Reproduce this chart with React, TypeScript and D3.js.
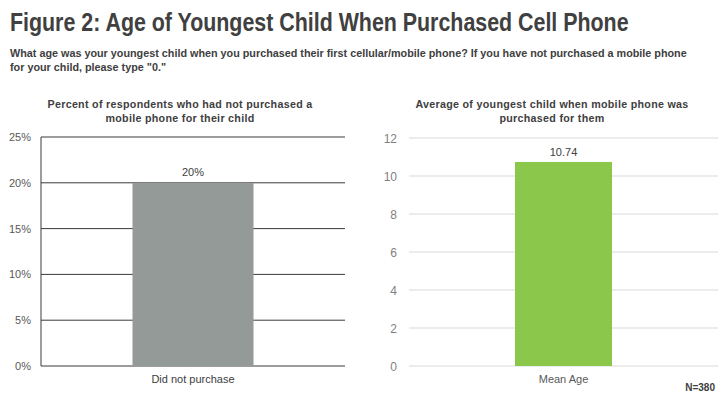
import React from "react";
import * as d3 from "d3";

const leftCategories = ["Did not purchase"];
const leftValues = [0.2];
const leftTicks = [0, 0.05, 0.1, 0.15, 0.2, 0.25];
const rightCategories = ["Mean Age"];
const rightValues = [10.74];
const rightTicks = [0, 2, 4, 6, 8, 10, 12];

const W = 724;
const H = 398;
const FONT = "'Liberation Sans', Arial, Helvetica, sans-serif";

export default function App() {
  const yL = d3.scaleLinear().domain([0, 0.25]).range([366, 137]);
  const xL = d3.scaleBand().domain(leftCategories).range([41, 345]).paddingInner(0).paddingOuter(0.756);
  const yR = d3.scaleLinear().domain([0, 12]).range([366, 138]);
  const xR = d3.scaleBand().domain(rightCategories).range([409, 718]).paddingInner(0).paddingOuter(1.093);
  const pct = d3.format(".0%");

  return (
    <svg width={W} height={H} style={{ position: "absolute", left: 0, top: 0, background: "#fff" }} fontFamily={FONT}>
      <g transform="translate(10,31) scale(0.856,1)">
        <text x={0} y={0} fontSize={25} fontWeight="bold" fill="#404040">
          Figure 2: Age of Youngest Child When Purchased Cell Phone
        </text>
      </g>
      <text x={10} y={57} fontSize={10.8} fontWeight="bold" fill="#404040">
        What age was your youngest child when you purchased their first cellular/mobile phone? If you have not purchased a mobile phone
      </text>
      <text x={10} y={71} fontSize={10.8} fontWeight="bold" fill="#404040">
        for your child, please type "0."
      </text>

      {/* Left chart */}
      <text x={180} y={108} fontSize={10.7} letterSpacing={0.3} fontWeight="bold" fill="#404040" textAnchor="middle">Percent of respondents who had not purchased a</text>
      <text x={180} y={122} fontSize={10.7} letterSpacing={0.3} fontWeight="bold" fill="#404040" textAnchor="middle">mobile phone for their child</text>
      {leftTicks.map((t) => (
        <g key={t}>
          <line x1={41} x2={345} y1={yL(t)} y2={yL(t)} stroke="#3a3a3a" strokeWidth={1} />
          <text x={31} y={yL(t) + 4} fontSize={11} fill="#595959" textAnchor="end">{pct(t)}</text>
        </g>
      ))}
      <line x1={41} x2={41} y1={yL(0.25)} y2={yL(0)} stroke="#3a3a3a" strokeWidth={1} />
      {leftCategories.map((c, i) => (
        <g key={c}>
          <rect x={xL(c)} y={yL(leftValues[i])} width={xL.bandwidth()} height={yL(0) - yL(leftValues[i])} fill="#949a97" />
          <text x={xL(c)! + xL.bandwidth() / 2} y={yL(leftValues[i]) - 7} fontSize={11} fill="#404040" textAnchor="middle">{pct(leftValues[i])}</text>
          <text x={xL(c)! + xL.bandwidth() / 2} y={383} fontSize={11} fill="#404040" textAnchor="middle">{c}</text>
        </g>
      ))}

      {/* Right chart */}
      <text x={552} y={108} fontSize={10.7} letterSpacing={0.3} fontWeight="bold" fill="#404040" textAnchor="middle">Average of youngest child when mobile phone was</text>
      <text x={552} y={122} fontSize={10.7} letterSpacing={0.3} fontWeight="bold" fill="#404040" textAnchor="middle">purchased for them</text>
      {rightTicks.map((t) => (
        <g key={t}>
          <line x1={409} x2={718} y1={yR(t)} y2={yR(t)} stroke="#d9d9d9" strokeWidth={1} />
          <text x={397} y={yR(t) + 4.5} fontSize={12} fill="#7f7f7f" textAnchor="end">{t}</text>
        </g>
      ))}
      {rightCategories.map((c, i) => (
        <g key={c}>
          <rect x={xR(c)} y={yR(rightValues[i])} width={xR.bandwidth()} height={yR(0) - yR(rightValues[i])} fill="#8bc74a" />
          <text x={xR(c)! + xR.bandwidth() / 2} y={yR(rightValues[i]) - 6} fontSize={11} fill="#404040" textAnchor="middle">{rightValues[i].toFixed(2)}</text>
          <text x={xR(c)! + xR.bandwidth() / 2} y={383} fontSize={11} fill="#595959" textAnchor="middle">{c}</text>
        </g>
      ))}
      <text x={715} y={391} fontSize={10} fontWeight="bold" fill="#404040" textAnchor="end">N=380</text>
    </svg>
  );
}
